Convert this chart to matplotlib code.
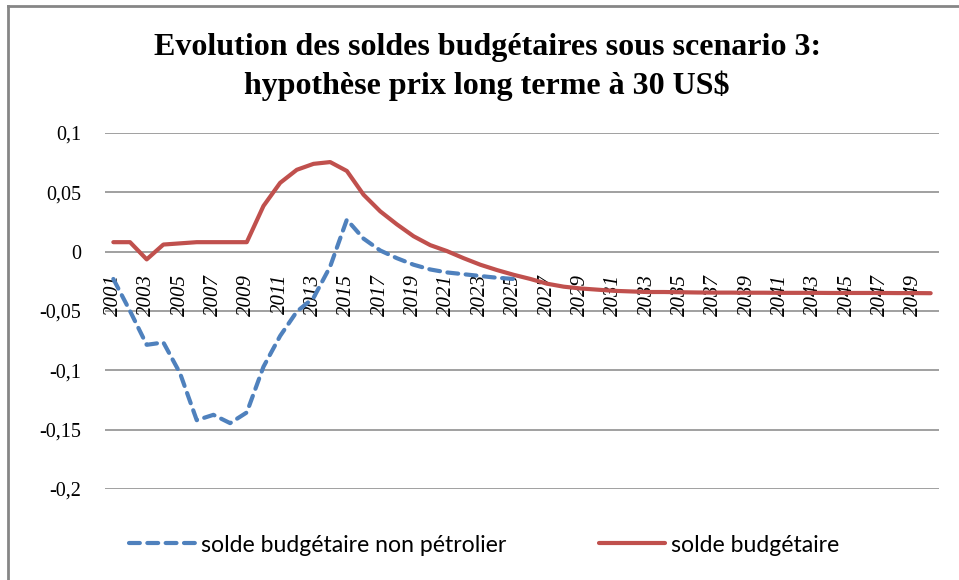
import matplotlib
matplotlib.use("Agg")
import matplotlib.pyplot as plt
from matplotlib.lines import Line2D

years = list(range(2001, 2051))

# solde budgétaire (red line), 2001-2050
solde = [0.008, 0.008, -0.0065, 0.006, 0.007, 0.008, 0.008, 0.008, 0.008, 0.0385,
         0.058, 0.069, 0.074, 0.0755, 0.068, 0.048, 0.034, 0.023, 0.013, 0.0055,
         0.0005, -0.0055, -0.011, -0.0155, -0.0195, -0.023, -0.027, -0.0295, -0.031, -0.032,
         -0.033, -0.0335, -0.034, -0.034, -0.0342, -0.0344, -0.0345, -0.0345, -0.0346, -0.0346,
         -0.0347, -0.0347, -0.0347, -0.0348, -0.0348, -0.0348, -0.0348, -0.0349, -0.0349, -0.035]

# solde budgétaire non pétrolier (blue dashed), 2001-2025
years_np = list(range(2001, 2026))
solde_np = [-0.023, -0.05, -0.0785, -0.0765, -0.1025, -0.142, -0.1375, -0.1445, -0.1355, -0.097,
            -0.071, -0.0505, -0.039, -0.0125, 0.027, 0.011, 0.001, -0.0055, -0.011, -0.015,
            -0.0175, -0.019, -0.0205, -0.022, -0.023]

yticks = [-0.2, -0.15, -0.1, -0.05, 0, 0.05, 0.1]
ytick_labels = ["-0,2", "-0,15", "-0,1", "-0,05", "0", "0,05", "0,1"]
xticks = years[::2]

title1 = "Evolution des soldes budgétaires sous scenario 3:"
title2 = "hypothèse prix long terme à 30 US$"

RED = "#C0504D"
BLUE = "#4F81BD"
GRID = "#868686"

fig = plt.figure(figsize=(9.59, 5.80), dpi=100)
ax = fig.add_axes([105 / 959, 1 - 489 / 580, (939 - 105) / 959, (489 - 133) / 580])

for y in yticks:
    ax.axhline(y, color=GRID, lw=1.1, zorder=1)

ax.plot(years_np, solde_np, color=BLUE, lw=3.0, dashes=(2.6, 1.8),
        dash_capstyle="round", label="solde budgétaire non pétrolier", zorder=3)
ax.plot(years, solde, color=RED, lw=3.0, solid_capstyle="round",
        label="solde budgétaire", zorder=3)

ax.set_xlim(2000.5, 2050.5)
ax.set_ylim(-0.2, 0.1)
for s in ax.spines.values():
    s.set_visible(False)
ax.spines["bottom"].set_position(("data", 0))

ax.set_yticks(yticks)
ax.set_yticklabels(ytick_labels, family="Liberation Serif", fontsize=14.5)
ax.set_xticks(xticks)
ax.set_xticklabels([str(y) for y in xticks], family="Liberation Serif",
                   style="italic", fontsize=15, rotation=90)
ax.tick_params(axis="y", length=0, pad=17)
ax.tick_params(axis="x", length=0, pad=16)

fig.text(0.508, 1 - 55 / 580, title1, ha="center", va="baseline",
         family="Liberation Serif", weight="bold", fontsize=23)
fig.text(0.508, 1 - 94 / 580, title2, ha="center", va="baseline",
         family="Liberation Serif", weight="bold", fontsize=23)

leg = fig.legend(loc="center", bbox_to_anchor=(484 / 959, 1 - 545 / 580), ncol=2,
                 frameon=False, prop={"family": "Lato", "size": 16.6},
                 handlelength=2.9, handletextpad=0.25, columnspacing=4.0)

# chart border (top and left edges visible)
fig.add_artist(Line2D([8 / 959, 8 / 959], [0, 1 - 6 / 580], transform=fig.transFigure,
                      color="#868686", lw=2))
fig.add_artist(Line2D([8 / 959, 1], [1 - 6 / 580, 1 - 6 / 580], transform=fig.transFigure,
                      color="#868686", lw=2))

fig.savefig("out.png", dpi=100)
